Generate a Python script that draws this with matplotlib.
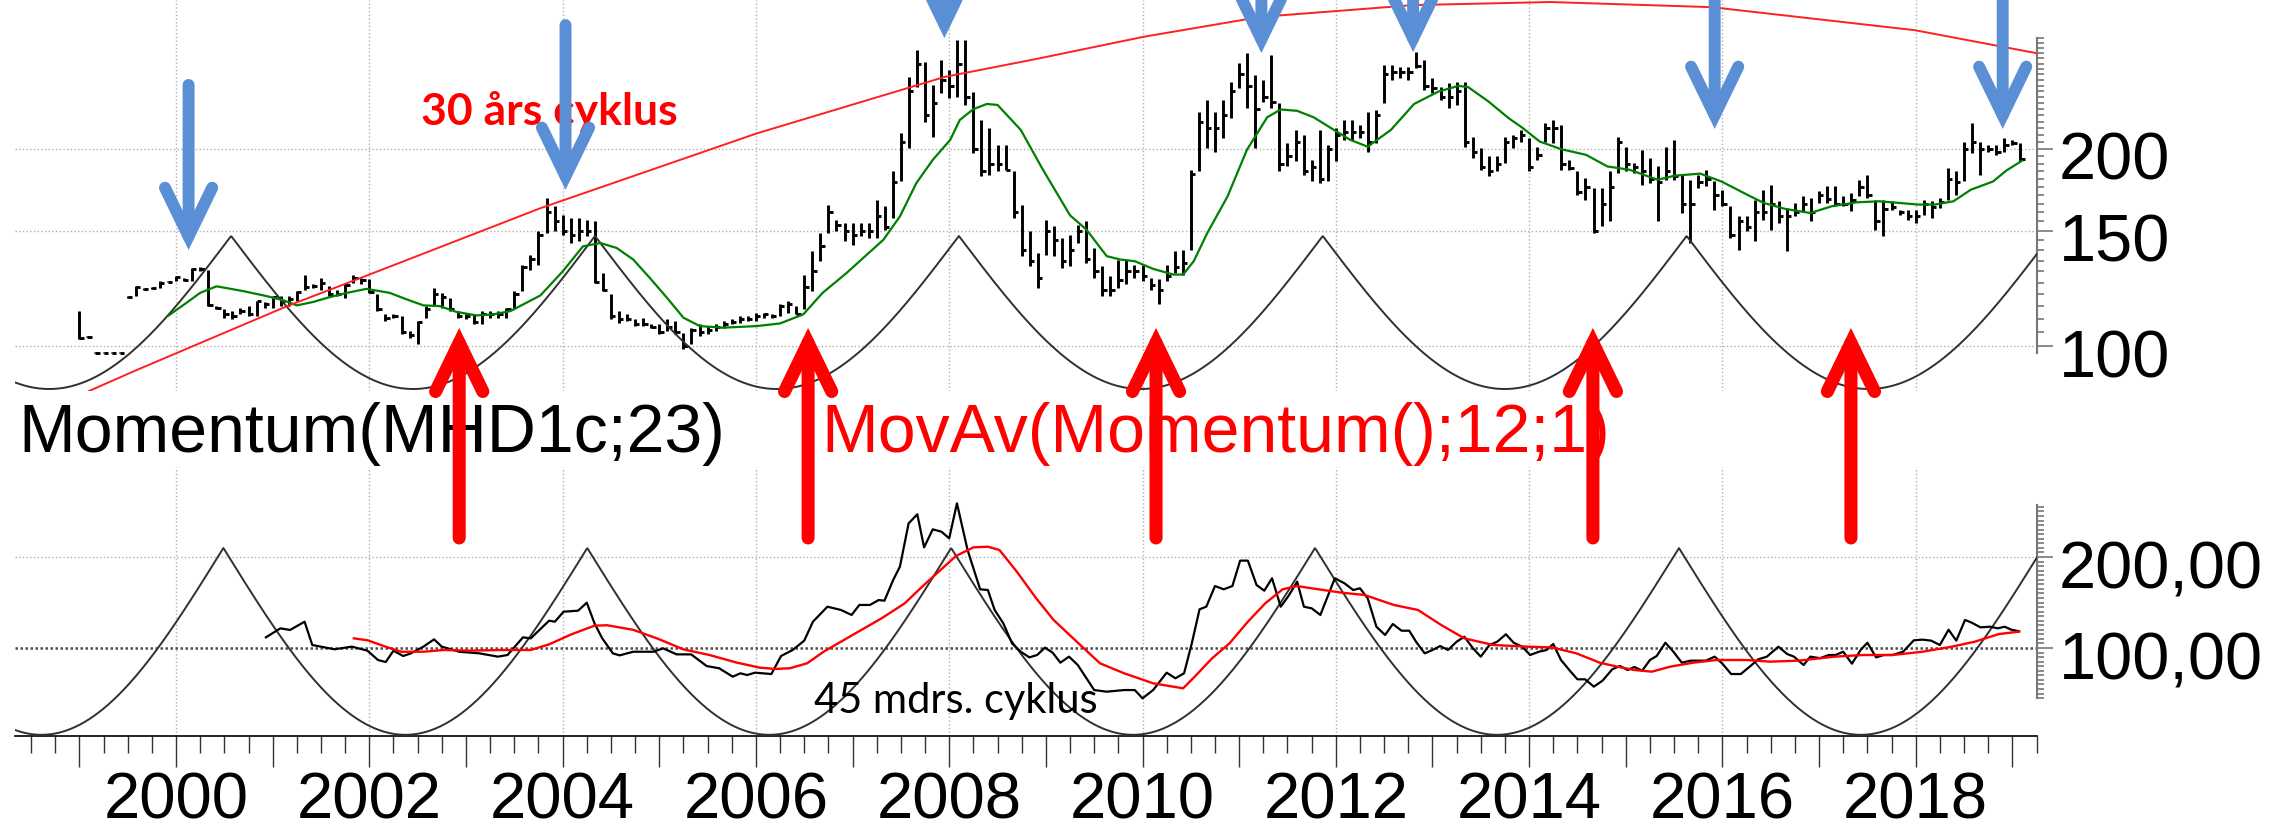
import numpy as np
import pandas as pd
import matplotlib
matplotlib.use("Agg")
import matplotlib.pyplot as plt
from matplotlib.ticker import FixedLocator, NullFormatter, FixedFormatter
import matplotlib.transforms as mtransforms

plt.rcParams['font.family'] = ['Liberation Sans', 'DejaVu Sans']

# ---------------- data ----------------
start_month = "1999-01"
highs = [
    113.1, 103.6, 97.9, 97.9, 97.9, 97.9, 119.2, 123.4, 122.7, 122.9,
    125.6, 125.8, 127.9, 127.2, 131.7, 132.2, 130.9, 115.1, 113.8, 113.1,
    114.5, 115.1, 117.2, 116.8, 119.2, 119.2, 119.2, 121.3, 128.6, 124.2,
    127.2, 123.4, 122.0, 124.9, 128.6, 127.2, 126.7, 119.9, 111.8, 111.8,
    111.1, 105.5, 109.2, 115.1, 122.7, 120.6, 118.5, 113.1, 112.4, 111.8,
    113.1, 113.1, 113.1, 114.5, 121.3, 133.2, 138.0, 149.7, 168.3, 163.5,
    158.8, 156.9, 156.9, 156.0, 155.1, 129.4, 119.9, 113.1, 111.8, 109.9,
    110.5, 107.9, 107.9, 109.9, 109.2, 104.9, 106.7, 107.9, 107.3, 107.9,
    109.2, 109.9, 111.1, 111.1, 112.4, 112.4, 111.8, 115.8, 117.2, 115.1,
    128.6, 139.6, 148.8, 164.5, 156.0, 154.2, 154.2, 154.2, 154.2, 167.3,
    163.5, 184.9, 211.4, 257.9, 283.2, 271.9, 250.5, 273.5, 264.0, 293.4,
    293.4, 244.6, 221.5, 215.1, 202.9, 202.9, 184.8, 164.4, 149.7, 138.8,
    156.0, 152.4, 146.3, 148.0, 153.3, 155.1, 141.2, 132.4, 127.9, 135.6,
    135.6, 133.2, 133.2, 127.2, 126.4, 133.2, 139.6, 140.4, 185.9, 228.1,
    237.6, 228.1, 237.6, 253.4, 270.3, 279.9, 259.4, 254.8, 278.3, 234.9,
    204.1, 213.9, 210.1, 192.5, 213.9, 202.9, 215.1, 221.5, 221.5, 217.6,
    228.1, 229.4, 268.7, 268.7, 267.1, 267.1, 281.6, 273.5, 256.4, 249.0,
    251.9, 253.4, 253.4, 208.9, 200.5, 194.8, 194.8, 208.9, 210.1, 213.9,
    207.7, 201.7, 218.9, 221.5, 217.6, 192.5, 184.8, 180.6, 174.3, 174.3,
    184.8, 208.9, 201.7, 190.3, 199.4, 193.6, 188.1, 201.7, 206.5, 182.7,
    179.5, 182.7, 185.9, 178.4, 173.3, 163.5, 157.8, 157.8, 167.3, 173.3,
    176.4, 166.4, 162.5, 165.4, 169.3, 168.3, 172.3, 175.4, 175.4, 169.3,
    171.3, 179.5, 182.7, 167.3, 167.3, 166.4, 161.6, 161.6, 161.6, 167.3,
    166.4, 168.3, 187.0, 184.8, 205.3, 218.9, 205.3, 202.9, 202.9, 207.7,
    206.5, 204.1]
lows = [
    102.4, 103.2, 97.5, 97.5, 97.5, 97.5, 118.5, 119.2, 122.0, 122.3,
    122.7, 125.2, 125.6, 125.6, 125.6, 130.1, 115.1, 113.8, 110.5, 109.9,
    111.8, 111.1, 111.1, 114.5, 114.5, 115.1, 115.1, 117.2, 122.0, 122.7,
    122.0, 119.2, 119.2, 118.5, 124.9, 124.2, 120.6, 113.1, 109.2, 110.5,
    104.2, 103.0, 100.6, 110.5, 115.1, 114.5, 113.1, 110.5, 109.9, 107.9,
    107.9, 110.5, 110.5, 110.5, 113.8, 121.3, 130.9, 133.2, 149.0, 149.7,
    148.0, 143.7, 144.6, 147.1, 124.9, 121.3, 109.9, 108.6, 109.2, 107.3,
    107.3, 106.7, 104.2, 105.5, 104.2, 98.9, 100.6, 103.6, 104.2, 105.5,
    106.7, 107.9, 108.6, 109.2, 109.2, 110.5, 110.5, 111.1, 112.4, 111.8,
    113.8, 121.3, 134.8, 149.0, 149.7, 144.6, 142.9, 147.1, 146.3, 146.3,
    150.6, 156.9, 178.4, 200.5, 249.0, 220.2, 208.9, 243.2, 239.0, 240.4,
    233.5, 197.1, 181.6, 182.7, 184.8, 185.9, 156.9, 137.2, 132.4, 122.7,
    138.0, 137.2, 131.7, 132.4, 143.7, 134.0, 127.2, 119.2, 119.2, 122.7,
    124.2, 127.2, 125.6, 122.0, 115.8, 125.6, 129.4, 128.6, 140.4, 184.8,
    200.5, 198.2, 207.7, 222.8, 247.5, 230.8, 200.5, 236.3, 230.8, 184.8,
    188.1, 191.4, 182.7, 178.4, 177.4, 178.4, 191.4, 206.5, 206.5, 207.7,
    198.2, 204.1, 234.9, 254.9, 256.4, 254.9, 265.6, 246.1, 243.2, 237.6,
    230.8, 233.5, 201.7, 193.7, 185.9, 181.6, 184.8, 190.3, 200.5, 205.3,
    184.8, 192.5, 205.3, 204.1, 185.9, 185.9, 170.3, 167.3, 148.8, 152.4,
    155.1, 183.7, 184.8, 183.7, 176.4, 177.4, 155.1, 179.5, 179.5, 159.7,
    143.7, 174.3, 175.4, 161.6, 163.5, 146.3, 140.4, 149.7, 144.6, 156.0,
    150.6, 154.2, 139.6, 157.8, 160.6, 155.1, 165.4, 165.4, 163.5, 163.5,
    160.6, 169.3, 168.3, 150.6, 147.1, 161.6, 158.7, 156.0, 154.2, 158.7,
    156.9, 162.5, 167.3, 170.3, 178.4, 197.1, 182.7, 198.2, 196.0, 198.2,
    202.9, 191.4]
closes = [
    103, 103.4, 97.7, 97.7, 97.7, 97.7, 119, 123, 122.3, 122.5,
    125, 125.5, 127.5, 126, 131, 131, 115.5, 114.5, 112, 111,
    113, 112, 117, 116, 119, 117, 118, 121, 123, 123.5,
    125, 120, 120, 124, 127, 126, 121, 114, 110.5, 111,
    105, 104, 109, 114, 120, 119, 114, 111, 111, 109,
    112, 112, 112, 114, 120, 132, 136, 148, 160, 155,
    150, 148, 150, 150, 125.5, 122, 111, 110, 110, 108,
    108, 107, 105, 107, 105, 100, 106, 105, 106, 107,
    108, 109, 110, 110, 111, 112, 111, 115, 116, 112,
    123, 130, 142, 160, 153, 150, 148, 150, 150, 158,
    152, 178, 205, 245, 270, 225, 235, 255, 250, 270,
    240, 200, 185, 190, 190, 186, 160, 140, 135, 127,
    150, 145, 135, 140, 150, 136, 130, 122, 122, 126,
    130, 130, 128, 124, 122, 128, 132, 134, 183, 220,
    215, 215, 225, 245, 260, 250, 230, 240, 236, 190,
    195, 205, 185, 188, 180, 200, 210, 212, 212, 212,
    205, 225, 260, 262, 262, 262, 268, 250, 248, 240,
    240, 245, 205, 198, 188, 185, 190, 205, 208, 210,
    188, 196, 215, 215, 190, 187, 172, 175, 150, 165,
    175, 205, 190, 188, 185, 180, 178, 185, 182, 165,
    165, 178, 180, 170, 165, 148, 155, 152, 160, 160,
    165, 158, 158, 160, 165, 160, 170, 168, 165, 165,
    167, 175, 170, 155, 162, 163, 160, 158, 158, 165,
    163, 166, 180, 178, 200, 205, 200, 200, 198, 203,
    204, 193]

# 12-month moving average of price (green)
ma_years = [1999.92, 2000.11, 2000.25, 2000.42, 2000.70, 2000.94, 2001.11, 2001.25, 2001.42, 2001.59,
            2001.77, 2001.97, 2002.21, 2002.39, 2002.56, 2002.73, 2002.90, 2003.11, 2003.28, 2003.46,
            2003.66, 2003.77, 2004.00, 2004.21, 2004.39, 2004.56, 2004.73, 2004.90, 2005.08, 2005.25,
            2005.42, 2005.66, 2006.01, 2006.25, 2006.49, 2006.69, 2006.94, 2007.32, 2007.49, 2007.66,
            2007.83, 2008.01, 2008.11, 2008.25, 2008.39, 2008.50, 2008.74, 2008.97, 2009.25, 2009.42,
            2009.63, 2009.77, 2009.92, 2010.11, 2010.32, 2010.42, 2010.53, 2010.67, 2010.88, 2011.08,
            2011.29, 2011.43, 2011.60, 2011.77, 2011.98, 2012.15, 2012.33, 2012.57, 2012.81, 2013.06,
            2013.27, 2013.37, 2013.58, 2013.79, 2013.93, 2014.11, 2014.33, 2014.59, 2014.81, 2015.04,
            2015.33, 2015.51, 2015.77, 2015.99, 2016.29, 2016.43, 2016.65, 2016.91, 2017.13, 2017.39,
            2017.62, 2017.84, 2018.02, 2018.20, 2018.39, 2018.57, 2018.80, 2018.94, 2019.10]
ma_values = [111.3, 116.5, 120.6, 123.4, 121.3, 119.2, 117.5, 115.4, 116.8, 118.8,
             120.6, 122.3, 120.6, 117.8, 115.4, 115.1, 112.8, 111.4, 111.8, 113.1,
             117.2, 119.5, 130.0, 142.0, 143.7, 141.2, 135.6, 127.2, 118.5, 110.5,
             107.3, 106.7, 107.3, 108.3, 111.8, 120.6, 129.4, 145.4, 157.8, 177.4,
             192.5, 206.5, 221.5, 230.1, 234.3, 233.5, 213.9, 185.9, 158.4, 150.6,
             137.2, 135.6, 134.8, 131.2, 128.6, 128.6, 134.8, 148.8, 169.3, 199.4,
             223.6, 229.8, 228.7, 223.6, 213.9, 206.5, 201.6, 213.9, 234.3, 244.7,
             249.7, 248.6, 236.3, 222.8, 215.5, 205.3, 199.9, 195.9, 188.1, 185.9,
             179.5, 182.1, 183.4, 178.4, 169.3, 165.4, 162.0, 159.7, 163.5, 165.8,
             166.4, 165.4, 164.5, 164.5, 166.4, 173.3, 178.4, 185.5, 191.9]

# Momentum(MHD1c;23)
mom_years = [2000.93, 2001.08, 2001.18, 2001.33, 2001.41, 2001.64, 2001.82, 2001.98, 2002.09, 2002.17,
             2002.25, 2002.35, 2002.43, 2002.56, 2002.67, 2002.75, 2002.93, 2003.14, 2003.33, 2003.43,
             2003.59, 2003.67, 2003.86, 2003.92, 2004.01, 2004.16, 2004.25, 2004.33, 2004.41, 2004.52,
             2004.59, 2004.73, 2004.94, 2005.04, 2005.18, 2005.33, 2005.49, 2005.62, 2005.76, 2005.84,
             2005.91, 2005.99, 2006.16, 2006.26, 2006.38, 2006.50, 2006.59, 2006.74, 2006.88, 2006.99,
             2007.07, 2007.18, 2007.27, 2007.33, 2007.42, 2007.49, 2007.58, 2007.67, 2007.74, 2007.83,
             2007.92, 2008.00, 2008.08, 2008.19, 2008.32, 2008.40, 2008.47, 2008.56, 2008.65, 2008.74,
             2008.83, 2008.91, 2008.99, 2009.07, 2009.15, 2009.24, 2009.33, 2009.42, 2009.50, 2009.63,
             2009.81, 2009.92, 2010.00, 2010.11, 2010.25, 2010.34, 2010.43, 2010.51, 2010.59, 2010.66,
             2010.75, 2010.84, 2010.93, 2011.01, 2011.09, 2011.18, 2011.26, 2011.34, 2011.43, 2011.51,
             2011.60, 2011.67, 2011.75, 2011.84, 2011.99, 2012.09, 2012.18, 2012.25, 2012.33, 2012.42,
             2012.51, 2012.59, 2012.68, 2012.76, 2012.83, 2012.92, 2013.00, 2013.08, 2013.16, 2013.25,
             2013.33, 2013.42, 2013.50, 2013.59, 2013.67, 2013.76, 2013.84, 2013.93, 2014.01, 2014.10,
             2014.18, 2014.25, 2014.33, 2014.43, 2014.50, 2014.58, 2014.67, 2014.76, 2014.86, 2014.94,
             2015.02, 2015.09, 2015.17, 2015.25, 2015.32, 2015.41, 2015.49, 2015.58, 2015.67, 2015.76,
             2015.83, 2015.92, 2016.00, 2016.09, 2016.19, 2016.29, 2016.37, 2016.46, 2016.58, 2016.67,
             2016.74, 2016.84, 2016.91, 2017.01, 2017.10, 2017.17, 2017.25, 2017.34, 2017.43, 2017.50,
             2017.59, 2017.67, 2017.76, 2017.87, 2017.98, 2018.07, 2018.16, 2018.25, 2018.34, 2018.42,
             2018.51, 2018.58, 2018.67, 2018.77, 2018.85, 2018.92, 2018.99, 2019.07]
mom_values = [111.7, 121.6, 119.8, 128.9, 103.3, 98.6, 101.5, 97.1, 86.8, 84.6,
              97.1, 91.2, 94.1, 101.5, 109.5, 101.5, 95.9, 94.1, 90.5, 92.3,
              111.7, 110.6, 130.0, 128.9, 139.9, 141.0, 149.8, 127.1, 110.6, 94.1,
              91.9, 95.9, 95.9, 99.6, 93.0, 93.0, 80.2, 77.7, 68.5, 72.2,
              70.3, 72.9, 71.4, 91.2, 97.8, 108.1, 128.9, 145.4, 141.8, 136.3,
              147.3, 147.3, 152.7, 152.0, 174.7, 189.4, 237.0, 246.9, 210.6, 230.4,
              227.8, 220.5, 259.0, 207.7, 164.5, 163.7, 141.8, 127.1, 105.1, 95.9,
              89.7, 92.3, 100.4, 94.9, 83.9, 90.5, 81.3, 66.7, 53.8, 52.0,
              53.8, 53.8, 44.7, 53.8, 72.9, 66.7, 72.2, 105.1, 142.5, 145.4,
              168.1, 164.5, 168.1, 196.0, 196.0, 169.2, 163.0, 176.6, 145.4, 157.1,
              172.9, 145.4, 143.6, 136.3, 176.6, 171.1, 163.7, 165.6, 154.6, 123.4,
              114.3, 126.4, 119.0, 119.0, 106.9, 94.1, 97.8, 102.2, 97.8, 106.9,
              112.4, 99.6, 90.5, 103.3, 106.9, 115.1, 105.8, 101.4, 92.3, 95.9,
              97.8, 104.4, 86.8, 74.0, 65.6, 65.6, 57.5, 64.1, 76.6, 80.2,
              75.8, 79.1, 75.1, 86.8, 91.2, 105.8, 96.3, 83.9, 86.1, 86.1,
              86.1, 90.5, 82.8, 71.4, 71.4, 80.2, 87.5, 90.5, 101.4, 93.4,
              90.5, 81.3, 90.5, 88.8, 92.3, 92.3, 95.9, 82.8, 97.8, 105.8,
              89.7, 92.3, 92.3, 95.9, 108.4, 109.2, 108.1, 103.3, 120.1, 108.1,
              130.8, 127.8, 122.7, 123.4, 121.6, 123.4, 120.1, 118.4]

# MovAv(Momentum();12;1)
mav_years = [2001.84, 2001.98, 2002.19, 2002.33, 2002.56, 2002.77, 2003.04, 2003.35, 2003.67, 2003.86,
             2004.09, 2004.33, 2004.46, 2004.73, 2004.99, 2005.25, 2005.52, 2005.80, 2006.04, 2006.20,
             2006.35, 2006.53, 2006.70, 2007.00, 2007.30, 2007.54, 2007.72, 2007.89, 2008.07, 2008.25,
             2008.40, 2008.52, 2008.70, 2008.90, 2009.08, 2009.32, 2009.56, 2009.81, 2010.11, 2010.42,
             2010.54, 2010.72, 2010.90, 2011.09, 2011.27, 2011.45, 2011.60, 2011.75, 2012.06, 2012.30,
             2012.60, 2012.85, 2013.09, 2013.33, 2013.63, 2014.00, 2014.24, 2014.49, 2014.73, 2014.91,
             2015.09, 2015.27, 2015.46, 2015.70, 2015.94, 2016.25, 2016.49, 2016.79, 2017.16, 2017.46,
             2017.76, 2018.07, 2018.37, 2018.61, 2018.86, 2019.07]
mav_values = [110.6, 108.5, 100.7, 95.9, 95.9, 97.8, 97.1, 97.8, 97.8, 104.0,
              115.0, 124.5, 125.0, 120.0, 110.0, 98.5, 92.3, 84.0, 78.4, 77.0,
              77.7, 83.2, 95.9, 114.3, 132.6, 149.1, 167.4, 183.8, 201.1, 210.6,
              211.3, 207.7, 183.8, 154.6, 130.8, 106.9, 83.2, 72.2, 61.2, 55.7,
              68.5, 88.7, 105.1, 128.9, 149.1, 164.5, 168.1, 165.6, 160.8, 158.2,
              147.3, 141.8, 125.3, 110.6, 103.3, 101.4, 100.6, 94.1, 83.9, 79.5,
              75.8, 74.0, 79.5, 83.9, 86.8, 86.8, 85.0, 86.1, 90.5, 92.3,
              92.3, 95.9, 101.4, 106.9, 115.3, 118.0]

# 30 year cycle arc (red)
arc30_years = [1999.10, 1999.59, 2001.15, 2002.00, 2003.77, 2006.01, 2007.95, 2008.94, 2010.01,
               2011.22, 2012.80, 2014.22, 2015.89, 2017.99, 2019.24]
arc30_values = [85.4, 91.9, 115.1, 128.6, 162.4, 211.3, 257.6, 275.2, 296.7,
                318.2, 331.7, 335.3, 329.3, 303.7, 280.3]

# 45 month cycle overlay
cycle_period = 3.765
price_cycle_first_peak = 2000.57
price_cycle_low, price_cycle_high = 86.0, 147.3
mom_cycle_first_peak = 2000.49
mom_cycle_low, mom_cycle_high = 4.6, 209.9

# arrows
blue_arrow_years = [2000.13, 2004.03, 2007.95, 2011.23, 2012.80, 2015.92, 2018.90]
blue_arrow_tips = [140.2, 173.2, 295.4, 280.2, 281.2, 214.6, 214.6]
blue_arrow_tails = [250.5, 309.2, 420, 420, 420, 420, 420]
red_arrow_years = [2002.93, 2006.54, 2010.14, 2014.66, 2017.33]
red_arrow_tip = 106.6        # price units (top panel)
red_arrow_tail = 220.9       # momentum units (bottom panel)

price_ticks = [100, 150, 200]
mom_ticks = [100, 200]
mom_ticklabels = ["100,00", "200,00"]
year_labels = list(range(2000, 2019, 2))

# ---------------- figure ----------------
W, H = 2275, 833
fig = plt.figure(figsize=(W / 100, H / 100), dpi=100)
X0, X1 = 1998.334, 2019.255

ax_top = fig.add_axes([15 / W, 1 - 391 / H, 2022 / W, 391 / H])
ax_bot = fig.add_axes([15 / W, 1 - 736 / H, 2022 / W, 269 / H])
ax_top.set_zorder(2)
ax_bot.set_zorder(1)
ax_top.patch.set_visible(False)

GRID = dict(color='#b0b0b0', ls=':', lw=1.0, zorder=0)

# ---- top panel ----
ax_top.set_yscale('log')
ax_top.set_xlim(X0, X1)
ax_top.set_ylim(85.4, 337.7)
for yr in year_labels:
    ax_top.axvline(yr, **GRID)
for v in price_ticks:
    ax_top.axhline(v, **GRID)

months = pd.period_range(start_month, periods=len(highs), freq='M')
bx = np.asarray(months.year + (months.month - 1) / 12.0, dtype=float)
ax_top.vlines(bx, lows, highs, color='black', lw=2.1, zorder=3)
ax_top.hlines(closes, bx, bx + 0.045, color='black', lw=2.1, zorder=3)

ax_top.plot(ma_years, ma_values, color='#008000', lw=1.6, zorder=4)
ax_top.plot(arc30_years, arc30_values, color='#ff2020', lw=1.4, zorder=4)

t = np.linspace(X0, X1, 3000)
f_top = 1 - np.abs(np.sin(np.pi * (t - price_cycle_first_peak) / cycle_period))
top_arc = np.exp(np.log(price_cycle_low) + (np.log(price_cycle_high) - np.log(price_cycle_low)) * f_top)
ax_top.plot(t, top_arc, color='#303030', lw=1.4, zorder=3)

ax_top.text(2002.53, 217.6, "30 års cyklus", color='#ff0000', fontsize=32,
            fontweight='bold', family=['Lato', 'DejaVu Sans'], va='baseline', zorder=2)

for s in ['left', 'top', 'bottom']:
    ax_top.spines[s].set_visible(False)
ax_top.spines['right'].set_bounds(97.7, 295.3)
ax_top.spines['right'].set_color('#777777')
ax_top.spines['right'].set_linewidth(1.5)
ax_top.yaxis.tick_right()
ax_top.yaxis.set_major_locator(FixedLocator(price_ticks))
ax_top.yaxis.set_major_formatter(FixedFormatter([str(v) for v in price_ticks]))
ax_top.yaxis.set_minor_locator(FixedLocator([v for v in range(100, 296, 5) if v not in price_ticks]))
ax_top.yaxis.set_minor_formatter(NullFormatter())
ax_top.tick_params(axis='y', which='major', length=11.5, width=1.2, color='#777777',
                   labelsize=48, pad=4)
ax_top.tick_params(axis='y', which='minor', length=5, width=1.2, color='#777777')
ax_top.tick_params(axis='x', which='both', bottom=False, labelbottom=False)

# ---- bottom panel ----
ax_bot.set_xlim(X0, X1)
ax_bot.set_ylim(3.3, 298.9)
for yr in year_labels:
    ax_bot.axvline(yr, **GRID)
ax_bot.axhline(200, **GRID)
ax_bot.axhline(100, color='#505050', ls=(0, (1, 1)), lw=1.8, zorder=0)

f_bot = 1 - np.abs(np.sin(np.pi * (t - mom_cycle_first_peak) / cycle_period))
bot_arc = mom_cycle_low + (mom_cycle_high - mom_cycle_low) * f_bot
ax_bot.plot(t, bot_arc, color='#303030', lw=1.4, zorder=3)
ax_bot.plot(mom_years, mom_values, color='black', lw=1.6, zorder=4)
ax_bot.plot(mav_years, mav_values, color='#ff0000', lw=1.7, zorder=5)

ax_bot.text(2006.60, 28.6, "45 mdrs. cyklus", color='black', fontsize=30,
            family=['Lato', 'DejaVu Sans'], va='baseline', zorder=6)

ax_bot.text(18 / W, 1 - 452 / H, "Momentum(MHD1c;23)", transform=fig.transFigure,
            fontsize=49, color='black', va='baseline', ha='left')
ax_bot.text(821 / W, 1 - 452 / H, "MovAv(Momentum();12;1)", transform=fig.transFigure,
            fontsize=49, color='#ff0000', va='baseline', ha='left')

for s in ['left', 'top']:
    ax_bot.spines[s].set_visible(False)
ax_bot.spines['bottom'].set_color('black')
ax_bot.spines['bottom'].set_linewidth(1.2)
ax_bot.spines['right'].set_bounds(45, 257)
ax_bot.spines['right'].set_color('#777777')
ax_bot.spines['right'].set_linewidth(1.5)
ax_bot.yaxis.tick_right()
ax_bot.yaxis.set_major_locator(FixedLocator(mom_ticks))
ax_bot.yaxis.set_major_formatter(FixedFormatter(mom_ticklabels))
ax_bot.yaxis.set_minor_locator(FixedLocator([v for v in range(45, 256, 5) if v not in mom_ticks]))
ax_bot.yaxis.set_minor_formatter(NullFormatter())
ax_bot.tick_params(axis='y', which='major', length=11.5, width=1.2, color='#777777',
                   labelsize=48, pad=4)
ax_bot.tick_params(axis='y', which='minor', length=5, width=1.2, color='#777777')

year_ticks = list(range(1999, 2020))
ax_bot.xaxis.set_major_locator(FixedLocator(year_ticks))
ax_bot.xaxis.set_major_formatter(FixedFormatter([str(y) if y in year_labels else '' for y in year_ticks]))
ax_bot.xaxis.set_minor_locator(FixedLocator([y + q for y in range(1998, 2020) for q in (0.25, 0.5, 0.75)
                                             if X0 < y + q < X1]))
ax_bot.tick_params(axis='x', which='major', direction='out', length=22.3, width=1.0,
                   color='#333333', labelsize=47, pad=3)
ax_bot.tick_params(axis='x', which='minor', direction='out', length=12.2, width=1.0, color='#333333')

# shift y tick labels slightly down like the reference
off = mtransforms.ScaledTranslation(0, -7 / 100, fig.dpi_scale_trans)
for ax in (ax_top, ax_bot):
    for lab in ax.get_yticklabels():
        lab.set_transform(lab.get_transform() + off)

# ---- arrows ----
blue = '#5a8fd6'
head = '->,head_length=1.75,head_width=0.85'
for x, tip, tail in zip(blue_arrow_years, blue_arrow_tips, blue_arrow_tails):
    ax_top.annotate('', xy=(x, tip), xytext=(x, tail), xycoords='data', textcoords='data',
                    annotation_clip=False, zorder=6,
                    arrowprops=dict(arrowstyle=head, mutation_scale=20, lw=8.6, color=blue,
                                    shrinkA=0, shrinkB=0, capstyle='round', joinstyle='miter'))
for x in red_arrow_years:
    ax_top.annotate('', xy=(x, red_arrow_tip), xytext=(x, red_arrow_tail), xycoords='data',
                    textcoords=ax_bot.transData, annotation_clip=False, zorder=6,
                    arrowprops=dict(arrowstyle=head, mutation_scale=20, lw=9.4, color='#ff0000',
                                    shrinkA=0, shrinkB=0, capstyle='round', joinstyle='miter'))

fig.savefig('out.png', dpi=100)
